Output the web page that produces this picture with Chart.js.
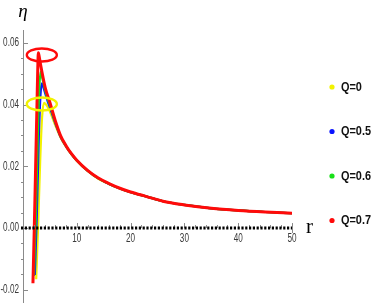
<!DOCTYPE html>
<html>
<head>
<meta charset="utf-8">
<script src="https://cdn.jsdelivr.net/npm/chart.js@4.4.1/dist/chart.umd.min.js"></script>
<style>
  html, body { margin: 0; padding: 0; background: #fff; }
  #wrap { width: 374px; height: 305px; }
</style>
</head>
<body>
<div id="wrap"><canvas id="chart" width="374" height="305"></canvas></div>
<script>
// series labels and colours
const seriesLabels = ["Q=0", "Q=0.5", "Q=0.6", "Q=0.7"];
const seriesColors = ["#f2f200", "#0a14ff", "#18e018", "#ff0a0a"];

// r values and eta values
const rQ0   = [2.45, 2.8, 3.2, 3.55, 3.9, 4.2, 4.6, 5.0, 6.0, 7, 8, 9, 10, 12, 14, 16, 18, 20, 23, 26, 30, 35, 40, 45, 50];
const etaQ0 = [-0.0166, 0.000, 0.022, 0.036, 0.0406, 0.0402, 0.0392, 0.0378, 0.0333, 0.0293, 0.0263, 0.0239, 0.0218, 0.0185, 0.0160, 0.0143, 0.0128, 0.0116, 0.0102, 0.0087, 0.0075, 0.0064, 0.0057, 0.0052, 0.0048];

const rQ05   = [2.2, 2.55, 2.95, 3.25, 3.5, 3.8, 4.2, 4.6, 5.0, 6.0, 7, 8, 9, 10, 12, 14, 16, 18, 20, 23, 26, 30, 35, 40, 45, 50];
const etaQ05 = [-0.0152, 0.003, 0.030, 0.043, 0.0469, 0.0456, 0.0432, 0.0410, 0.0391, 0.0340, 0.0295, 0.0265, 0.0240, 0.0219, 0.0186, 0.0161, 0.0143, 0.0128, 0.0116, 0.0102, 0.0087, 0.0075, 0.0064, 0.0057, 0.0052, 0.0048];

const rQ06   = [2.05, 2.4, 2.8, 3.05, 3.3, 3.6, 4.0, 4.5, 5.0, 6.0, 7, 8, 9, 10, 12, 14, 16, 18, 20, 23, 26, 30, 35, 40, 45, 50];
const etaQ06 = [-0.0155, 0.004, 0.033, 0.046, 0.0507, 0.0486, 0.0455, 0.0422, 0.0398, 0.0343, 0.0297, 0.0266, 0.0240, 0.0219, 0.0186, 0.0161, 0.0143, 0.0128, 0.0116, 0.0102, 0.0087, 0.0075, 0.0064, 0.0057, 0.0052, 0.0048];

const rQ07   = [1.85, 2.1, 2.35, 2.6, 2.75, 2.85, 3.05, 3.3, 3.7, 4.2, 5.0, 6.0, 7, 8, 9, 10, 12, 14, 16, 18, 20, 23, 26, 30, 35, 40, 45, 50];
const etaQ07 = [-0.0179, 0.000, 0.020, 0.040, 0.052, 0.0568, 0.0552, 0.0527, 0.0490, 0.0450, 0.0407, 0.0348, 0.0299, 0.0267, 0.0241, 0.0220, 0.0187, 0.0162, 0.0144, 0.0129, 0.0117, 0.0102, 0.0087, 0.0075, 0.0064, 0.0057, 0.0052, 0.0048];

// axis ticks
const xTicks = [10, 20, 30, 40, 50];
const yTicks = [-0.02, 0.00, 0.02, 0.04, 0.06];
const yTickLabels = ["-0.02", "0.00", "0.02", "0.04", "0.06"];

// ellipse marks (red around top peak, yellow around Q=0 peak)
const markR = [3.5, 3.5];
const markEta = [0.0561, 0.0402];
const markColors = ["#ff0a0a", "#f2f200"];

const allR = [rQ0, rQ05, rQ06, rQ07];
const allEta = [etaQ0, etaQ05, etaQ06, etaQ07];

const datasets = seriesLabels.map((lab, i) => ({
  label: lab,
  data: allR[i].map((r, k) => ({ x: r, y: allEta[i][k] })),
  borderColor: seriesColors[i],
  borderWidth: i === 3 ? 3 : 2.2,
  pointRadius: 0,
  fill: false,
  cubicInterpolationMode: "monotone",
  order: 3 - i,
}));

const sans = '"Liberation Sans", Arial, sans-serif';

// draw text squeezed horizontally (the original uses a condensed face)
function narrowText(ctx, txt, x, y, align, squeeze) {
  ctx.save();
  ctx.translate(x, y);
  ctx.scale(squeeze, 1);
  ctx.textAlign = align;
  ctx.fillText(txt, 0, 0);
  ctx.restore();
}

const axesPlugin = {
  id: "axesPlugin",
  afterDatasetsDraw(chart) {
    const ctx = chart.ctx;
    const xs = chart.scales.x, ys = chart.scales.y;
    const x0 = xs.getPixelForValue(0);
    const y0 = ys.getPixelForValue(0);
    ctx.save();

    // y axis
    ctx.strokeStyle = "#8a8a8a";
    ctx.lineWidth = 1;
    ctx.beginPath();
    ctx.moveTo(x0 + 0.5, chart.chartArea.top);
    ctx.lineTo(x0 + 0.5, chart.chartArea.bottom);
    ctx.stroke();
    for (let v = -0.02; v <= 0.0641; v += 0.005) {
      const p = Math.round(ys.getPixelForValue(v)) + 0.5;
      const major = yTicks.some(t => Math.abs(t - v) < 1e-6);
      ctx.beginPath();
      if (major) { ctx.moveTo(x0, p); ctx.lineTo(x0 + 5, p); }
      else { ctx.moveTo(x0 - 2, p); ctx.lineTo(x0 + 1, p); }
      ctx.stroke();
    }
    ctx.fillStyle = "#3a3a3a";
    ctx.font = "12px " + sans;
    ctx.textBaseline = "middle";
    yTicks.forEach((t, i) => {
      narrowText(ctx, yTickLabels[i], x0 - 4, ys.getPixelForValue(t), "right", 0.68);
    });

    // x axis: small ticks then dotted black line
    ctx.strokeStyle = "#8a8a8a";
    for (let v = 2; v <= 50; v += 2) {
      const p = Math.round(xs.getPixelForValue(v)) + 0.5;
      const major = xTicks.includes(v);
      ctx.beginPath();
      ctx.moveTo(p, y0 - (major ? 5 : 3));
      ctx.lineTo(p, y0 + (v === 50 ? 5 : 0));
      ctx.stroke();
    }
    ctx.strokeStyle = "#000";
    ctx.lineWidth = 3;
    ctx.setLineDash([2.2, 1.6]);
    ctx.beginPath();
    ctx.moveTo(x0 - 2, y0);
    ctx.lineTo(xs.getPixelForValue(50), y0);
    ctx.stroke();
    ctx.setLineDash([]);
    ctx.fillStyle = "#3a3a3a";
    ctx.textBaseline = "middle";
    xTicks.forEach(t => {
      narrowText(ctx, String(t), xs.getPixelForValue(t), y0 + 11, "center", 0.68);
    });

    // ellipse marks
    ctx.lineWidth = 2.4;
    markR.forEach((r, i) => {
      ctx.strokeStyle = markColors[i];
      ctx.beginPath();
      ctx.ellipse(xs.getPixelForValue(r), ys.getPixelForValue(markEta[i]), 15, 6.5, 0, 0, Math.PI * 2);
      ctx.stroke();
    });

    // axis titles
    ctx.fillStyle = "#000";
    ctx.font = "italic 19px 'Liberation Serif', 'DejaVu Serif', serif";
    ctx.textAlign = "center";
    ctx.fillText("\u03b7", x0, 12);
    ctx.font = "21px 'Liberation Serif', 'DejaVu Serif', serif";
    ctx.textAlign = "left";
    ctx.fillText("r", xs.getPixelForValue(50) + 14, y0 - 1);

    // legend
    ctx.font = "bold 13px " + sans;
    ctx.textBaseline = "middle";
    seriesLabels.forEach((lab, i) => {
      const ly = 87 + i * 44.5;
      ctx.fillStyle = seriesColors[i];
      ctx.beginPath();
      ctx.arc(332, ly, 2.6, 0, Math.PI * 2);
      ctx.fill();
      ctx.fillStyle = "#111";
      narrowText(ctx, lab, 341, ly, "left", 0.84);
    });
    ctx.restore();
  }
};

new Chart(document.getElementById("chart"), {
  type: "line",
  data: { datasets: datasets },
  options: {
    responsive: false,
    animation: false,
    layout: { padding: { left: 23, right: 82, top: 30, bottom: 2 } },
    plugins: { legend: { display: false }, tooltip: { enabled: false } },
    scales: {
      x: { type: "linear", min: 0, max: 50, display: false },
      y: { type: "linear", min: -0.0243, max: 0.0642, display: false },
    },
  },
  plugins: [axesPlugin],
});
</script>
</body>
</html>
